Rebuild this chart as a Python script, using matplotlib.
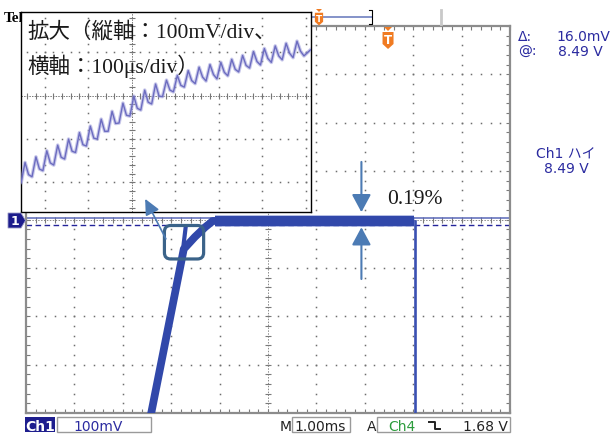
import numpy as np
import matplotlib.pyplot as plt
from matplotlib.patches import Polygon, Rectangle, FancyBboxPatch, ConnectionPatch
from matplotlib.lines import Line2D

W, H = 612, 435
plt.rcParams['font.family'] = ['DejaVu Sans', 'Noto Sans CJK JP']

# main screen, 1.00 ms/div and 100 mV/div, both relative to the screen centre
rise_ms = [-2.46, -1.74, -1.51, -1.30, -1.14, 3.02]
rise_mv = [-424, -61, -36, -16, -3, -3]
spike_ms = [-1.76, -1.70]
spike_mv = [-65, -15]
band_ms = [-1.10, 3.02]
band_lo_mv = [-13, -13]
band_hi_mv = [7, 7]
fall_ms = [3.03, 3.03]
fall_mv = [-3, -424]

cursor_a_mv = 4.0
cursor_b_mv = -12.0
level_v = 8.49
trig_ms = 2.48
trig_v = 1.68
ch1_scale = '100mV'
time_scale = '1.00ms'

# zoomed window, 100 us/div and 100 mV/div (trough, peak, shoulder per ripple cycle)
zoom_us = [-254, -245, -237, -229, -220, -212, -204, -195, -187,
           -179, -170, -162, -154, -145, -137, -129, -120, -112,
           -104, -95, -87, -79, -70, -62, -54, -45, -37,
           -29, -20, -12, -4, 5, 13, 21, 30, 38,
           46, 55, 63, 71, 80, 88, 96, 105, 113,
           121, 130, 138, 146, 155, 163, 171, 180, 188,
           196, 205, 213, 221, 230, 238, 246, 255, 263,
           271, 280, 288, 296, 305, 313, 321, 330, 338,
           346, 355, 363, 371, 380, 388, 396, 411]
zoom_mv = [-200, -154, -182, -187, -141, -169, -173, -127, -155,
           -160, -114, -142, -146, -100, -128, -131, -85, -113,
           -116, -70, -98, -100, -54, -82, -82, -36, -64,
           -63, -17, -45, -47, -1, -29, -33, 13, -15,
           -19, 27, -1, -2, 36, 13, 9, 47, 24,
           20, 58, 35, 28, 66, 43, 34, 72, 49,
           39, 77, 54, 46, 84, 61, 55, 93, 70,
           64, 102, 79, 71, 109, 86, 77, 115, 92,
           83, 121, 98, 88, 126, 103, 92, 106]

navy = '#2b2ba0'
trace = '#3148aa'
arrow_c = '#4c7bb4'
orange = '#f07b22'
jp_serif = ['Liberation Serif', 'Noto Sans CJK JP']


def fp(x, y):
    return (x / W, 1 - y / H)


def frame(x0, y0, x1, y1):
    return [x0 / W, 1 - y1 / H, (x1 - x0) / W, (y1 - y0) / H]


fig = plt.figure(figsize=(W / 100, H / 100), dpi=100)
fig.patch.set_facecolor('white')

# ---- main graticule ----
ax = fig.add_axes(frame(26, 27, 510, 414))
ax.set_xlim(-5, 5)
ax.set_ylim(-400, 400)
ax.set_xticks(np.arange(-5, 5.01, 0.2))
ax.set_yticks(np.arange(-400, 401, 20))
ax.tick_params(direction='in', length=3, width=0.8, color='#7a7a7a',
               top=True, right=True, labelbottom=False, labelleft=False)
for s in ax.spines.values():
    s.set_color('#8c8c8c')
    s.set_linewidth(1.6)

dot = dict(ls='none', marker='s', ms=1.1, mew=0, color='#6e6e6e', zorder=1)
yd = np.arange(-400, 401, 20)
xd = np.arange(-5, 5.01, 0.2)
for x in range(-4, 5):
    if x:
        ax.plot(np.full(yd.size, x), yd, **dot)
for y in range(-300, 301, 100):
    if y:
        ax.plot(xd, np.full(xd.size, y), **dot)
ax.axvline(0, color='#8a8a8a', lw=0.7, ls=(0, (1.5, 1.5)), zorder=1)
ax.axhline(0, color='#8a8a8a', lw=0.7, ls=(0, (1.5, 1.5)), zorder=1)
ax.plot(np.zeros(yd.size), yd, ls='none', marker='_', ms=5, mew=0.8, color='#7a7a7a', zorder=1)
ax.plot(xd, np.zeros(xd.size), ls='none', marker='|', ms=5, mew=0.8, color='#7a7a7a', zorder=1)

# cursors
ax.axhline(cursor_a_mv, color='#5a68b8', lw=1.1, zorder=2)
ax.axhline(cursor_b_mv, color='#23239a', lw=1.0, ls=(0, (4, 2.5)), zorder=2)

# waveform
ax.fill_between(band_ms, [v - 3 for v in band_lo_mv], [v + 3 for v in band_hi_mv],
                color='#7082cc', alpha=0.5, lw=0, zorder=3)
ax.fill_between(band_ms, band_lo_mv, band_hi_mv, color=trace, lw=0, zorder=4)
ax.plot(rise_ms, rise_mv, color=trace, lw=5.6, solid_joinstyle='round',
        solid_capstyle='butt', zorder=4)
ax.plot(spike_ms, spike_mv, color=trace, lw=3, zorder=4)
ax.plot(fall_ms, fall_mv, color='#3a50b2', lw=1.9, zorder=4)

# highlight round the knee
ax.add_patch(FancyBboxPatch((-2.14, -81.6), 0.81, 69.2,
                            boxstyle='round,pad=0,rounding_size=0.13', mutation_aspect=100,
                            fill=False, ec='#3b6389', lw=2.3, zorder=5))

# ripple arrows
head = '-|>,head_length=1.08,head_width=0.58'
ax.annotate('', xy=(1.93, 15), xytext=(1.93, 119),
            arrowprops=dict(arrowstyle=head, mutation_scale=10, color=arrow_c,
                            lw=1.5, shrinkA=0, shrinkB=0), zorder=6)
ax.annotate('', xy=(1.93, -16), xytext=(1.93, -123),
            arrowprops=dict(arrowstyle=head, mutation_scale=10, color=arrow_c,
                            lw=1.5, shrinkA=0, shrinkB=0), zorder=6)
ratio = abs(cursor_a_mv - cursor_b_mv) / (level_v * 1000) * 100
ax.text(2.46, 34, f'{ratio:.2f}%', family=jp_serif, fontsize=15.5,
        color='#1a1a1a', va='baseline', zorder=6)

# ---- zoomed window ----
ax_in = fig.add_axes(frame(20.7, 13.3, 310.7, 213.3), zorder=2)
ax_in.set_xlim(-255, 411.5)
ax_in.set_ylim(-269, 192.6)
ax_in.set_xticks([])
ax_in.set_yticks([])
for s in ax_in.spines.values():
    s.set_color('black')
    s.set_linewidth(1.0)
zy = np.arange(-260, 200, 20)
zx = np.arange(-240, 420, 20)
for x in [-200, -100, 100, 200, 300, 400]:
    ax_in.plot(np.full(zy.size, x), zy, **dot)
for y in [-200, -100, 100]:
    ax_in.plot(zx, np.full(zx.size, y), **dot)
ax_in.axvline(0, color='#777777', lw=0.7, ls=(0, (1.5, 1.2)), zorder=1)
ax_in.axhline(0, color='#777777', lw=0.7, ls=(0, (1.5, 1.2)), zorder=1)
ax_in.plot(np.zeros(zy.size), zy, ls='none', marker='_', ms=5, mew=0.8, color='#777777', zorder=1)
ax_in.plot(zx, np.zeros(zx.size), ls='none', marker='|', ms=5, mew=0.8, color='#777777', zorder=1)
ax_in.plot(zoom_us, zoom_mv, color='#9c9cda', lw=2.6, alpha=0.55, zorder=3)
ax_in.plot(zoom_us, zoom_mv, color='#6c6cc0', lw=1.0, zorder=3)

fig.text(*fp(27, 38), '拡大（縦軸：100mV/div、', family=jp_serif, fontsize=15.5,
         color='#1a1a1a', va='baseline', zorder=3)
fig.text(*fp(27, 73), '横軸：100μs/div）', family=jp_serif, fontsize=15.5,
         color='#1a1a1a', va='baseline', zorder=3)

con = ConnectionPatch(xyA=(-2.11, -40), coordsA='data', axesA=ax,
                      xyB=(31, -238), coordsB='data', axesB=ax_in,
                      arrowstyle='-|>,head_length=0.95,head_width=0.45', mutation_scale=10,
                      color=arrow_c, lw=1.2, shrinkA=0, shrinkB=0, zorder=6)
fig.add_artist(con)

# ---- top bar ----
fig.text(*fp(4, 21.7), 'Tek', family='Liberation Serif', fontweight='bold',
         fontsize=11, color='black', va='baseline', zorder=1)
fig.add_artist(Line2D([310 / W, 372 / W], [fp(0, 18.3)[1]] * 2, color='#7080c0', lw=1.2))
fig.add_artist(Line2D([369 / W, 372 / W, 372 / W, 369 / W],
                      [fp(0, 11)[1], fp(0, 11)[1], fp(0, 25)[1], fp(0, 25)[1]],
                      color='black', lw=0.8))
fig.add_artist(Line2D([441 / W, 441 / W], [fp(0, 11)[1], fp(0, 25)[1]], color='#c9c9c9', lw=2))


def t_marker(cx, y0, s):
    tri = [(cx - 4 * s, y0), (cx + 4 * s, y0), (cx, y0 + 4 * s)]
    shield = [(cx - 5.5 * s, y0 + 5 * s), (cx + 5.5 * s, y0 + 5 * s), (cx + 5.5 * s, y0 + 17 * s),
              (cx, y0 + 22 * s), (cx - 5.5 * s, y0 + 17 * s)]
    for pts in (tri, shield):
        fig.add_artist(Polygon([fp(*p) for p in pts], closed=True,
                               transform=fig.transFigure, fc=orange, ec='none', zorder=4))
    fig.text(*fp(cx, y0 + 12.5 * s), 'T', color='white', fontweight='bold',
             fontsize=8.5 * s, ha='center', va='center', zorder=5)


t_marker(319, 10, 0.75)
trig_px = ax.transData.transform((trig_ms, 0))[0]
t_marker(trig_px, 28, 1.0)

# channel 1 marker
mk = [(8, 214), (21, 214), (25.5, 221.5), (21, 229), (8, 229)]
fig.add_artist(Polygon([fp(*p) for p in mk], closed=True, transform=fig.transFigure,
                       fc='#1c1c8c', ec='#9a9ac8', lw=0.6, zorder=4))
fig.text(*fp(14.5, 222), '1', color='white', fontweight='bold', fontsize=9,
         ha='center', va='center', zorder=5)

# ---- readouts on the right ----
fig.text(*fp(518, 41), 'Δ:', color=navy, fontsize=10, va='baseline')
fig.text(*fp(610, 41), f'{abs(cursor_a_mv - cursor_b_mv):.1f}mV', color=navy,
         fontsize=10, ha='right', va='baseline')
fig.text(*fp(518, 55.5), '@:', color=navy, fontsize=10, va='baseline')
fig.text(*fp(603, 55.5), f'{level_v:.2f} V', color=navy, fontsize=10, ha='right', va='baseline')
fig.text(*fp(566, 158), 'Ch1 ハイ', color=navy, fontsize=10, ha='center', va='baseline')
fig.text(*fp(566, 173), f'{level_v:.2f} V', color=navy, fontsize=10, ha='center', va='baseline')

# ---- status bar ----
def status_box(x0, x1, **kw):
    fig.add_artist(Rectangle(fp(x0, 433), (x1 - x0) / W, 15 / H,
                             transform=fig.transFigure, **kw))


status_box(25, 55, fc='#1e1e8e', ec='none')
fig.text(*fp(40, 431), 'Ch1', color='white', fontweight='bold', fontsize=10,
         ha='center', va='baseline')
status_box(57, 151, fc='none', ec='#9a9a9a', lw=1)
fig.text(*fp(73, 431), ch1_scale, color=navy, fontsize=10, va='baseline')
fig.text(*fp(280, 431), 'M', color='#222222', fontsize=10, va='baseline')
status_box(292, 350, fc='none', ec='#9a9a9a', lw=1)
fig.text(*fp(294, 431), time_scale, color='#222222', fontsize=10, va='baseline')
fig.text(*fp(367, 431), 'A', color='#222222', fontsize=10, va='baseline')
status_box(377, 510, fc='none', ec='#9a9a9a', lw=1)
fig.text(*fp(388, 431), 'Ch4', color='#2c9c3c', fontsize=10, va='baseline')
edge = [(429, 422.5), (434.5, 422.5), (434.5, 430), (440, 430)]
fig.add_artist(Line2D([p[0] / W for p in edge], [fp(*p)[1] for p in edge], color='#222222', lw=1.4))
fig.text(*fp(508, 431), f'{trig_v:.2f} V', color='#222222', fontsize=10, ha='right', va='baseline')

fig.savefig('out.png', dpi=100)
